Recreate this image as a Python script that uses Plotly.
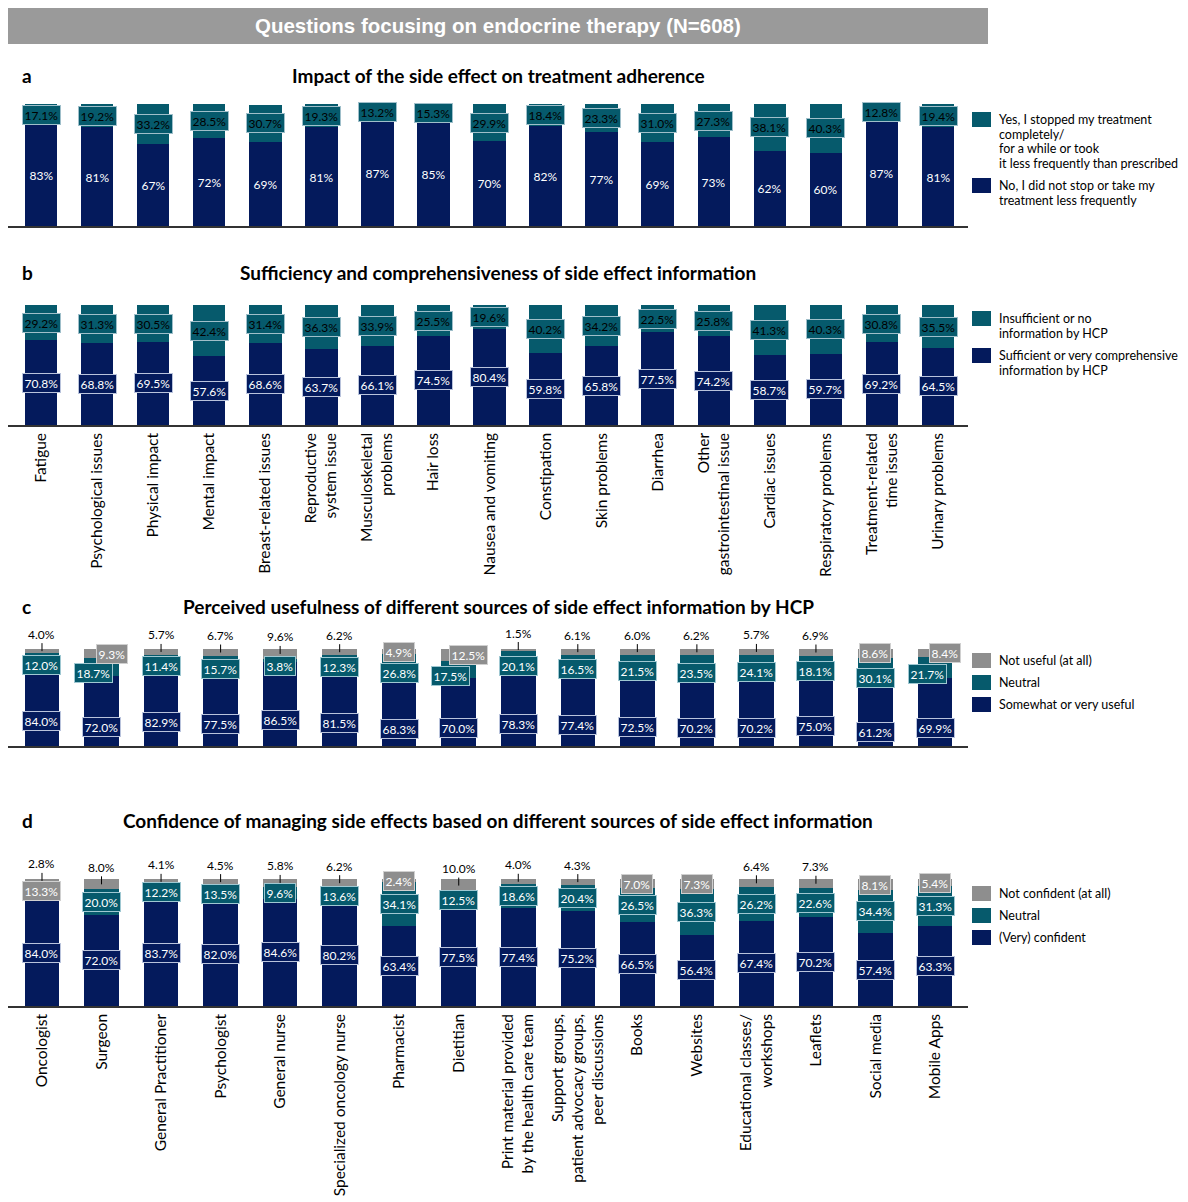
import plotly.graph_objects as go

W, H = 1188, 1202

# ---------------- data ----------------
symptoms = [
    "Fatigue", "Psychological issues", "Physical impact", "Mental impact",
    "Breast-related issues", "Reproductive<br>system issue", "Musculoskeletal<br>problems",
    "Hair loss", "Nausea and vomiting", "Constipation", "Skin problems", "Diarrhea",
    "Other<br>gastrointestinal issue", "Cardiac issues", "Respiratory problems",
    "Treatment-related<br>time issues", "Urinary problems",
]
adherence_no = [83, 81, 67, 72, 69, 81, 87, 85, 70, 82, 77, 69, 73, 62, 60, 87, 81]
adherence_yes = [17.1, 19.2, 33.2, 28.5, 30.7, 19.3, 13.2, 15.3, 29.9, 18.4, 23.3,
                 31.0, 27.3, 38.1, 40.3, 12.8, 19.4]

info_sufficient = [70.8, 68.8, 69.5, 57.6, 68.6, 63.7, 66.1, 74.5, 80.4, 59.8, 65.8,
                   77.5, 74.2, 58.7, 59.7, 69.2, 64.5]
info_insufficient = [29.2, 31.3, 30.5, 42.4, 31.4, 36.3, 33.9, 25.5, 19.6, 40.2, 34.2,
                     22.5, 25.8, 41.3, 40.3, 30.8, 35.5]

sources = [
    "Oncologist", "Surgeon", "General Practitioner", "Psychologist", "General nurse",
    "Specialized oncology nurse", "Pharmacist", "Dietitian",
    "Print material provided<br>by the health care team",
    "Support groups,<br>patient advocacy groups,<br>peer discussions",
    "Books", "Websites", "Educational classes/<br>workshops", "Leaflets",
    "Social media", "Mobile Apps",
]
useful = [84.0, 72.0, 82.9, 77.5, 86.5, 81.5, 68.3, 70.0, 78.3, 77.4, 72.5, 70.2,
          70.2, 75.0, 61.2, 69.9]
useful_neutral = [12.0, 18.7, 11.4, 15.7, 3.8, 12.3, 26.8, 17.5, 20.1, 16.5, 21.5,
                  23.5, 24.1, 18.1, 30.1, 21.7]
not_useful = [4.0, 9.3, 5.7, 6.7, 9.6, 6.2, 4.9, 12.5, 1.5, 6.1, 6.0, 6.2, 5.7, 6.9,
              8.6, 8.4]

confident = [84.0, 72.0, 83.7, 82.0, 84.6, 80.2, 63.4, 77.5, 77.4, 75.2, 66.5, 56.4,
             67.4, 70.2, 57.4, 63.3]
conf_neutral = [13.3, 20.0, 12.2, 13.5, 9.6, 13.6, 34.1, 12.5, 18.6, 20.4, 26.5, 36.3,
                26.2, 22.6, 34.4, 31.3]
not_confident = [2.8, 8.0, 4.1, 4.5, 5.8, 6.2, 2.4, 10.0, 4.0, 4.3, 7.0, 7.3, 6.4, 7.3,
                 8.1, 5.4]

# where the small top-segment labels sit: above with a leader, inside, or inside nudged right
grey_place_c = ["above", "right", "above", "above", "above", "above", "inside", "right",
                "above", "above", "above", "above", "above", "above", "inside", "right"]
grey_place_d = ["above", "above", "above", "above", "above", "above", "inside", "above",
                "above", "above", "inside", "inside", "above", "above", "inside", "inside"]
neutral_box_d = ["grey"] + ["teal"] * 15

# ---------------- style ----------------
NAVY = "#041a5c"
TEAL = "#065a6c"
GREY = "#8e8e8e"
BANNER = "#9a9a9a"
FONT = "Lato"
LBL = 12


def px(x):
    return x / W


def py(y):
    return 1 - y / H


fig = go.Figure()

panels = [
    # axis suffix, y-domain in px (top, bottom), x-range
    ("", (104, 226), (-0.589, 16.535)),
    ("2", (305, 425), (-0.589, 16.535)),
    ("3", (649, 746), (-0.571, 15.554)),
    ("4", (879, 1006), (-0.571, 15.554)),
]

BW = 0.58


def add_bar(suffix, cats, vals, color):
    fig.add_trace(go.Bar(
        x=cats, y=vals, marker=dict(color=color, line=dict(width=0)), width=BW,
        xaxis="x" + suffix, yaxis="y" + suffix, showlegend=False, hoverinfo="skip",
    ))


add_bar("", symptoms, adherence_no, NAVY)
add_bar("", symptoms, adherence_yes, TEAL)
add_bar("2", symptoms, info_sufficient, NAVY)
add_bar("2", symptoms, info_insufficient, TEAL)
add_bar("3", sources, useful, NAVY)
add_bar("3", sources, useful_neutral, TEAL)
add_bar("3", sources, not_useful, GREY)
add_bar("4", sources, confident, NAVY)
add_bar("4", sources, conf_neutral, TEAL)
add_bar("4", sources, not_confident, GREY)

annotations = []


def label(suffix, x, y, text, bg, fg, border, xshift=0, yshift=0):
    d = dict(x=x, y=y, xref="x" + suffix, yref="y" + suffix, text=text,
             showarrow=False, font=dict(family=FONT, size=LBL, color=fg),
             xshift=xshift, yshift=yshift, borderpad=1.5,
             xanchor="center", yanchor="middle")
    if bg:
        d.update(bgcolor=bg, bordercolor=border, borderwidth=1)
    annotations.append(d)


# panel a
for c, n, y in zip(symptoms, adherence_no, adherence_yes):
    label("", c, n / 2, f"{n:.0f}%", None, "white", None)
    label("", c, n + y / 2, f"{y:.1f}%", TEAL, "black", "#9fbfca")

# panel b
for c, s, i in zip(symptoms, info_sufficient, info_insufficient):
    label("2", c, s / 2, f"{s:.1f}%", NAVY, "white", "#b9c3dc")
    label("2", c, s + i / 2, f"{i:.1f}%", TEAL, "black", "#9fbfca")


def three_part(suffix, cats, low, mid, top, places, mid_boxes, low_dy, mid_dy):
    for k, c in enumerate(cats):
        lo, me, tp = low[k], mid[k], top[k]
        label(suffix, c, lo / 2, f"{lo:.1f}%", NAVY, "white", "#b9c3dc", yshift=low_dy)
        mid_dx = -8 if places[k] == "right" else 0
        box = GREY if mid_boxes[k] == "grey" else TEAL
        bcol = "#d0d0d0" if mid_boxes[k] == "grey" else "#9fc8d2"
        label(suffix, c, lo + me / 2, f"{me:.1f}%", box, "white", bcol,
              xshift=mid_dx, yshift=mid_dy)
        ty = lo + me + tp / 2
        if places[k] == "above":
            annotations.append(dict(
                x=c, y=ty, xref="x" + suffix, yref="y" + suffix, text=f"{tp:.1f}%",
                showarrow=True, ax=0, ay=-17, arrowhead=0, arrowwidth=1,
                arrowcolor="black", standoff=0,
                font=dict(family=FONT, size=LBL, color="black"),
            ))
        else:
            label(suffix, c, ty, f"{tp:.1f}%", GREY, "white", "#d0d0d0",
                  xshift=10 if places[k] == "right" else 0)


three_part("3", sources, useful, useful_neutral, not_useful, grey_place_c,
           ["teal"] * len(sources), -16, -6)
three_part("4", sources, confident, conf_neutral, not_confident, grey_place_d,
           neutral_box_d, 0, 0)

# banner and panel headings
shapes = [dict(type="rect", xref="paper", yref="paper", x0=px(8), x1=px(988),
               y0=py(44), y1=py(8), fillcolor=BANNER, line=dict(width=0), layer="below")]
annotations.append(dict(x=px(498), y=py(26), xref="paper", yref="paper",
                        xanchor="center", yanchor="middle",
                        text="<b>Questions focusing on endocrine therapy (N=608)</b>",
                        showarrow=False, font=dict(family="Liberation Sans", size=20.5,
                                                   color="white")))

headings = [
    ("a", "Impact of the side effect on treatment adherence", 76),
    ("b", "Sufficiency and comprehensiveness of side effect information", 272),
    ("c", "Perceived usefulness of different sources of side effect information by HCP", 606),
    ("d", "Confidence of managing side effects based on different sources of side effect information", 821),
]
for letter, title, yy in headings:
    annotations.append(dict(x=px(20), y=py(yy), xref="paper", yref="paper",
                            text=f"<b>{letter}</b>", xanchor="left", yanchor="middle",
                            showarrow=False,
                            font=dict(family=FONT, size=19, color="black")))
    annotations.append(dict(x=px(498), y=py(yy), xref="paper", yref="paper",
                            text=f"<b>{title}</b>", xanchor="center", yanchor="middle",
                            showarrow=False,
                            font=dict(family=FONT, size=19, color="black")))

# legends drawn as swatches with text, one annotation per text line
LINE_STEP = 14.7
legends = [
    [(TEAL, ["Yes, I stopped my treatment", "completely/", "for a while or took",
             "it less frequently than prescribed"], 112),
     (NAVY, ["No, I did not stop or take my", "treatment less frequently"], 178)],
    [(TEAL, ["Insufficient or no", "information by HCP"], 311),
     (NAVY, ["Sufficient or very comprehensive", "information by HCP"], 348)],
    [(GREY, ["Not useful (at all)"], 653), (TEAL, ["Neutral"], 675),
     (NAVY, ["Somewhat or very useful"], 697)],
    [(GREY, ["Not confident (at all)"], 886), (TEAL, ["Neutral"], 908),
     (NAVY, ["(Very) confident"], 930)],
]
for entries in legends:
    for color, lines, top in entries:
        shapes.append(dict(type="rect", xref="paper", yref="paper", x0=px(972), x1=px(991),
                           y0=py(top + 15), y1=py(top), fillcolor=color,
                           line=dict(width=0)))
        for j, line in enumerate(lines):
            annotations.append(dict(x=px(997), y=py(top + 7.5 + j * LINE_STEP),
                                    xref="paper", yref="paper", text=line,
                                    xanchor="left", yanchor="middle", align="left",
                                    showarrow=False,
                                    font=dict(family=FONT, size=12.5, color="black")))

layout = dict(
    width=W, height=H, margin=dict(l=0, r=0, t=0, b=0),
    paper_bgcolor="white", plot_bgcolor="white", barmode="stack",
    font=dict(family=FONT, color="black"),
    annotations=annotations, shapes=shapes,
)
for suffix, (top, bottom), xr in panels:
    show_ticks = suffix in ("2", "4")
    layout["xaxis" + suffix] = dict(
        domain=[px(8), px(968)], anchor="y" + suffix, range=list(xr),
        showline=True, linecolor="#333333", linewidth=1.5, showgrid=False,
        zeroline=False, ticks="", showticklabels=show_ticks, tickangle=-90,
        tickfont=dict(family=FONT, size=15.5, color="black"),
    )
    layout["yaxis" + suffix] = dict(
        domain=[py(bottom), py(top)], anchor="x" + suffix, range=[0, 100.2],
        visible=False, showgrid=False, zeroline=False,
    )

fig.update_layout(**layout)
fig.write_html("out.html")
